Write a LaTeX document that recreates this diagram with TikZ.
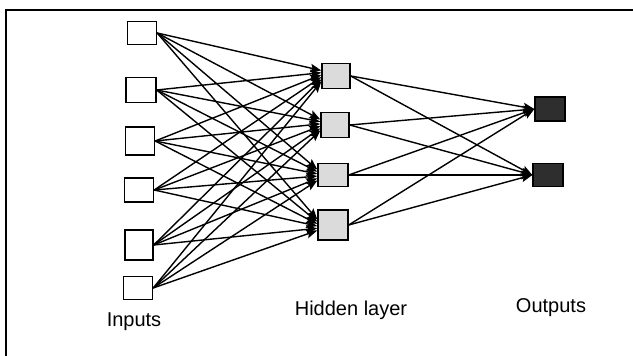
\documentclass[tikz,border=0pt]{standalone}
\usepackage{fontspec}
\setmainfont{Liberation Sans}
\usetikzlibrary{arrows.meta}
\begin{document}
\begin{tikzpicture}[x=1pt,y=-1pt,
  unit/.style={draw=black, line width=1.4pt, inner sep=0pt},
  inbox/.style={unit, fill=white},
  hidbox/.style={unit, fill=gray!28},
  outbox/.style={unit, fill=black!82},
  link/.style={line width=1.4pt, -{Stealth[length=11pt,width=8.5pt,inset=2pt]}},
  lbl/.style={font=\fontsize{20}{24}\selectfont, inner sep=0pt}]
\useasboundingbox (0,0) rectangle (633,356);
% frame edges
\draw[line width=2pt] (6,356) -- (6,10) -- (633,10);

% input layer
\node[inbox, minimum width=29pt, minimum height=23pt] (i1) at (142,33) {};
\node[inbox, minimum width=30pt, minimum height=25pt] (i2) at (141,90) {};
\node[inbox, minimum width=29pt, minimum height=28pt] (i3) at (140,141) {};
\node[inbox, minimum width=29pt, minimum height=24pt] (i4) at (139,190) {};
\node[inbox, minimum width=28pt, minimum height=30pt] (i5) at (139,245) {};
\node[inbox, minimum width=29pt, minimum height=23pt] (i6) at (138,288) {};

% hidden layer
\node[hidbox, minimum width=28pt, minimum height=25pt] (h1) at (336,76) {};
\node[hidbox, minimum width=28pt, minimum height=25pt] (h2) at (335,125) {};
\node[hidbox, minimum width=30pt, minimum height=23pt] (h3) at (333,175) {};
\node[hidbox, minimum width=30pt, minimum height=30pt] (h4) at (333,225) {};

% output layer
\node[outbox, minimum width=30pt, minimum height=24pt] (o1) at (550,109) {};
\node[outbox, minimum width=30pt, minimum height=23pt] (o2) at (548,175) {};

% connections input -> hidden
\foreach \i in {1,...,6}
  \foreach \h in {1,...,4}
    \draw[link] (i\i.east) -- ([yshift={(3.5-\i)*2.2pt}]h\h.west);

% connections hidden -> output
\foreach \h in {1,...,4}
  \foreach \o in {1,2}
    \draw[link] (h\h.east) -- (o\o.west);

% layer labels
\node[lbl] (linputs) at (134,322) {Inputs};
\node[lbl] (lhidden) at (351,310) {Hidden layer};
\node[lbl] (loutputs) at (551,308) {Outputs};
\end{tikzpicture}
\end{document}
